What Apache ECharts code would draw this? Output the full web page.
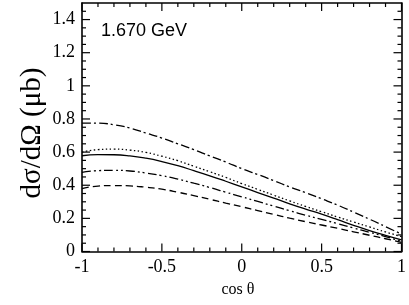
<!DOCTYPE html>
<html>
<head>
<meta charset="utf-8">
<script src="https://cdn.jsdelivr.net/npm/echarts@6/dist/echarts.min.js"></script>
<style>html,body{margin:0;padding:0;background:#fff}#c{width:409px;height:305px;background:#fff}</style>
</head>
<body>
<div id="c"></div>
<script>
const cosTheta = [-1.0,-0.9,-0.8,-0.7,-0.6,-0.5,-0.4,-0.3,-0.2,-0.1,0.0,0.1,0.2,0.3,0.4,0.5,0.6,0.7,0.8,0.9,1.0];
const dashDot    = [0.775,0.775,0.765,0.745,0.715,0.685,0.650,0.615,0.577,0.540,0.500,0.465,0.428,0.390,0.355,0.318,0.280,0.238,0.195,0.150,0.105];
const dotted     = [0.600,0.615,0.618,0.612,0.598,0.575,0.548,0.515,0.482,0.447,0.410,0.375,0.340,0.305,0.272,0.240,0.208,0.178,0.148,0.118,0.090];
const solid      = [0.578,0.585,0.584,0.577,0.563,0.543,0.518,0.488,0.457,0.424,0.390,0.356,0.322,0.288,0.256,0.225,0.192,0.158,0.126,0.097,0.070];
const dashDotDot = [0.478,0.488,0.490,0.486,0.474,0.458,0.437,0.412,0.386,0.358,0.330,0.302,0.274,0.246,0.219,0.194,0.168,0.142,0.116,0.090,0.062];
const dashed     = [0.380,0.395,0.398,0.396,0.388,0.376,0.358,0.337,0.315,0.292,0.270,0.247,0.224,0.201,0.180,0.160,0.140,0.119,0.098,0.077,0.055];
const xTicks = [-1, -0.5, 0, 0.5, 1];
const xMinorTicks = [-0.9,-0.8,-0.7,-0.6,-0.4,-0.3,-0.2,-0.1,0.1,0.2,0.3,0.4,0.6,0.7,0.8,0.9];
const yTicks = [0, 0.2, 0.4, 0.6, 0.8, 1, 1.2, 1.4];
const yMinorTicks = [0.05,0.1,0.15,0.25,0.3,0.35,0.45,0.5,0.55,0.65,0.7,0.75,0.85,0.9,0.95,1.05,1.1,1.15,1.25,1.3,1.35,1.45];
const energyLabel = '1.670 GeV';
const xTitle = 'cos θ';
const yTitle = 'dσ/dΩ (μb)';

const X_MIN = -1, X_MAX = 1, Y_MIN = 0, Y_MAX = 1.5;
const MAJOR_LEN = 8, MINOR_LEN = 4;

const chart = echarts.init(document.getElementById('c'));
const serif = '"Liberation Serif", "Times New Roman", serif';
const lineCol = '#000';
function pairs(arr){ return cosTheta.map((x,i)=>[x, arr[i]]); }

function xAx(extra, showLabel){
  return Object.assign({
    type: 'value', min: X_MIN, max: X_MAX, interval: 0.5,
    axisLine: {show: true, onZero: false, lineStyle: {color: lineCol, width: 1.6}},
    axisTick: {show: false},
    splitLine: {show: false},
    axisLabel: {show: showLabel, margin: 7, color: '#000', fontFamily: serif, fontSize: 18,
      formatter: v => String(v)}
  }, extra);
}
function yAx(extra, showLabel){
  return Object.assign({
    type: 'value', min: Y_MIN, max: Y_MAX, interval: 0.2,
    axisLine: {show: true, onZero: false, lineStyle: {color: lineCol, width: 1.6}},
    axisTick: {show: false},
    splitLine: {show: false},
    axisLabel: {show: showLabel, margin: 7, color: '#000', fontFamily: serif, fontSize: 18,
      showMaxLabel: false,
      formatter: v => yTicks.some(t => Math.abs(t - v) < 1e-6) ? String(v) : ''}
  }, extra);
}

function ser(name, arr, type){
  return {
    name, type: 'line', xAxisIndex: 0, yAxisIndex: 0, data: pairs(arr),
    smooth: true, showSymbol: false, symbol: 'none', silent: true,
    lineStyle: {color: lineCol, width: 1.3, type: type}
  };
}

const tickStroke = {stroke: lineCol, lineWidth: 1.2};
// inward ticks on all four sides, placed through the axes' own scales (api.coord)
const xTickData = xTicks.map(v => [v, MAJOR_LEN]).concat(xMinorTicks.map(v => [v, MINOR_LEN]));
const yTickData = yTicks.map(v => [v, MAJOR_LEN]).concat(yMinorTicks.map(v => [v, MINOR_LEN]));

const xTickSeries = {
  type: 'custom', silent: true, clip: false, z: 5, xAxisIndex: 0, yAxisIndex: 0,
  data: xTickData,
  renderItem: (params, api) => {
    const v = api.value(0), len = api.value(1);
    const b = api.coord([v, Y_MIN]);
    const t = api.coord([v, Y_MAX]);
    return {type: 'group', children: [
      {type: 'line', shape: {x1: b[0], y1: b[1], x2: b[0], y2: b[1] - len}, style: tickStroke},
      {type: 'line', shape: {x1: t[0], y1: t[1], x2: t[0], y2: t[1] + len}, style: tickStroke}
    ]};
  }
};
const yTickSeries = {
  type: 'custom', silent: true, clip: false, z: 5, xAxisIndex: 0, yAxisIndex: 0,
  data: yTickData,
  renderItem: (params, api) => {
    const v = api.value(0), len = api.value(1);
    const l = api.coord([X_MIN, v]);
    const r = api.coord([X_MAX, v]);
    return {type: 'group', children: [
      {type: 'line', shape: {x1: l[0], y1: l[1], x2: l[0] + len, y2: l[1]}, style: tickStroke},
      {type: 'line', shape: {x1: r[0], y1: r[1], x2: r[0] - len, y2: r[1]}, style: tickStroke}
    ]};
  }
};

chart.setOption({
  animation: false,
  grid: {left: 82, right: 6.5, top: 3, bottom: 53.5},
  xAxis: [xAx({}, true), xAx({position: 'top'}, false)],
  yAxis: [yAx({}, true), yAx({position: 'right'}, false)],
  series: [
    ser('dashDot', dashDot, [9, 3, 2, 3]),
    ser('dotted', dotted, [1.5, 2.5]),
    ser('solid', solid, 'solid'),
    ser('dashDotDot', dashDotDot, [9, 3, 2, 3, 2, 3]),
    ser('dashed', dashed, [7, 4]),
    xTickSeries,
    yTickSeries
  ],
  graphic: [
    {type: 'text', left: 101, top: 22, style: {text: energyLabel, font: '18px "Liberation Sans", Arial, sans-serif', fill: '#000'}},
    {type: 'text', x: 238, y: 290, style: {text: xTitle, font: '16px ' + serif, fill: '#000', align: 'center', verticalAlign: 'middle'}},
    {type: 'text', x: 32, y: 133, rotation: Math.PI / 2, style: {text: yTitle, font: '29px ' + serif, fill: '#000', align: 'center', verticalAlign: 'middle'}}
  ]
});
</script>
</body>
</html>
